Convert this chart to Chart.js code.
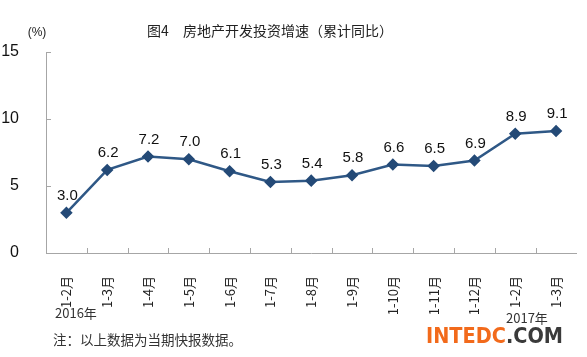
<!DOCTYPE html>
<html><head><meta charset="utf-8">
<script src="https://cdn.jsdelivr.net/npm/chart.js@4.4.1/dist/chart.umd.min.js"></script>
<style>html,body{margin:0;padding:0;background:#fff;}#wrap{position:relative;width:587px;height:357px;}</style>
</head><body>
<div id="wrap"><canvas id="c" width="587" height="357"></canvas></div>
<script>
const titleText = '图4　房地产开发投资增速（累计同比）';
const unitText = '(%)';
const categories = ['1-2月','1-3月','1-4月','1-5月','1-6月','1-7月','1-8月','1-9月','1-10月','1-11月','1-12月','1-2月','1-3月'];
const growth = [3.0, 6.2, 7.2, 7.0, 6.1, 5.3, 5.4, 5.8, 6.6, 6.5, 6.9, 8.9, 9.1];
const yTicks = [0, 5, 10, 15];
const yearLabels = ['2016年', '2017年'];
const noteText = '注：以上数据为当期快报数据。';
const markA = 'INTEDC';
const markB = '.COM';

const AXIS = '#a6a6a6';
const SANS = '"Liberation Sans", Arial, sans-serif';
const CJK = '"Noto Sans CJK SC", sans-serif';

const extras = {
  id: 'extras',
  afterDraw(chart) {
    const ctx = chart.ctx;
    const xs = chart.scales.x, ys = chart.scales.y;
    const area = chart.chartArea;
    ctx.save();
    // inner tick marks
    ctx.strokeStyle = AXIS; ctx.lineWidth = 1;
    ctx.beginPath();
    yTicks.forEach(v => {
      const y = Math.round(ys.getPixelForValue(v)) + 0.5;
      ctx.moveTo(area.left, y); ctx.lineTo(area.left + 5, y);
    });
    for (let i = 1; i < categories.length; i++) {
      const x = Math.round((xs.getPixelForValue(i - 1) + xs.getPixelForValue(i)) / 2) + 0.5;
      ctx.moveTo(x, area.bottom); ctx.lineTo(x, area.bottom - 5);
    }
    ctx.stroke();
    // data labels
    const meta = chart.getDatasetMeta(0);
    ctx.fillStyle = '#111';
    ctx.font = '15px ' + SANS;
    ctx.textAlign = 'center'; ctx.textBaseline = 'middle';
    meta.data.forEach((p, i) => {
      ctx.fillText(growth[i].toFixed(1), p.x + 1, p.y - 17);
    });
    // title
    ctx.fillStyle = '#222';
    ctx.font = '14px ' + CJK;
    ctx.fillText(titleText, 270, 31);
    // unit
    ctx.font = '12px ' + SANS;
    ctx.fillText(unitText, 37, 33);
    // years
    ctx.fillStyle = '#333';
    ctx.font = '13px ' + CJK;
    ctx.textAlign = 'left';
    ctx.fillText(yearLabels[0], 55, 313);
    ctx.fillText(yearLabels[1], 506, 318);
    // note
    ctx.font = '13.5px ' + CJK;
    ctx.fillText(noteText, 53, 340);
    // watermark
    ctx.font = 'bold 21px "DejaVu Sans", sans-serif';
    ctx.textBaseline = 'alphabetic';
    const wa = ctx.measureText(markA).width, wb = ctx.measureText(markB).width;
    const sx = 137 / (wa + wb);
    ctx.translate(426, 343);
    ctx.scale(sx, 1);
    ctx.fillStyle = '#f26a1b';
    ctx.fillText(markA, 0, 0);
    ctx.fillStyle = '#3a3a3a';
    ctx.fillText(markB, wa, 0);
    ctx.restore();
  }
};

new Chart(document.getElementById('c'), {
  type: 'line',
  data: {
    labels: categories,
    datasets: [{
      data: growth,
      borderColor: '#2f5886',
      borderWidth: 2.5,
      pointStyle: 'rectRot',
      pointRadius: 4.5,
      pointBackgroundColor: '#244a77',
      pointBorderColor: '#244a77',
      tension: 0,
      fill: false
    }]
  },
  options: {
    responsive: false,
    animation: false,
    layout: { padding: { left: 0, top: 52, right: 9, bottom: 0 } },
    plugins: { legend: { display: false }, tooltip: { enabled: false }, title: { display: false } },
    scales: {
      x: {
        type: 'category',
        offset: true,
        grid: { display: false },
        border: { display: true, color: AXIS, width: 1 },
        ticks: {
          autoSkip: false, maxRotation: 90, minRotation: 90, padding: 15,
          color: '#222', font: { family: CJK, size: 13 }
        },
        afterFit(s) { s.height = 104; }
      },
      y: {
        min: 0, max: 15,
        grid: { display: false },
        border: { display: true, color: AXIS, width: 1 },
        afterBuildTicks(s) { s.ticks = yTicks.map(v => ({ value: v })); },
        ticks: { padding: 19, color: '#111', font: { family: SANS, size: 16 } },
        afterFit(s) { s.width = 46; }
      }
    }
  },
  plugins: [extras]
});
</script>
</body></html>
